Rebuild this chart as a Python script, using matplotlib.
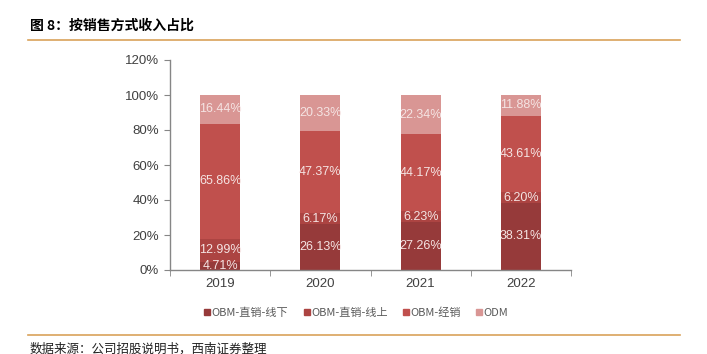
import matplotlib
matplotlib.use("Agg")
import matplotlib.pyplot as plt
import numpy as np
from matplotlib.lines import Line2D

plt.rcParams['font.family'] = ['Liberation Sans', 'Noto Sans CJK SC', 'DejaVu Sans']

years = ["2019", "2020", "2021", "2022"]
series_names = ["OBM-直销-线下", "OBM-直销-线上", "OBM-经销", "ODM"]
offline = [4.71, 26.13, 27.26, 38.31]
online = [12.99, 6.17, 6.23, 6.20]
distrib = [65.86, 47.37, 44.17, 43.61]
odm = [16.44, 20.33, 22.34, 11.88]
yticks = [0, 20, 40, 60, 80, 100, 120]
colors = ["#963a3a", "#ac4442", "#c0504d", "#d99694"]

fig = plt.figure(figsize=(7.07, 3.54), dpi=100)
ax = fig.add_axes([170/707, 1-270/354, (571-170)/707, (270-60)/354])

x = np.arange(len(years))
bottom = np.zeros(len(years))
for vals, c, name in zip([offline, online, distrib, odm], colors, series_names):
    v = np.array(vals)
    ax.bar(x, v, 0.4, bottom=bottom, color=c, label=name, zorder=2)
    for xi, b, h in zip(x, bottom, v):
        ax.text(xi, b + h/2, f"{h:.2f}%", ha='center', va='center',
                color='#f5e4e3', fontsize=9, zorder=3)
    bottom += v

ax.set_xlim(-0.5, 3.5)
ax.set_ylim(0, 120)
ax.set_yticks(yticks)
ax.set_yticklabels([f"{t}%" for t in yticks])
ax.set_xticks(x)
ax.set_xticklabels(years)
ax.set_xticks(np.arange(-0.5, 4.0, 1.0), minor=True)
ax.tick_params(axis='x', which='major', length=0, labelsize=9.5, colors='#404040', pad=6)
ax.tick_params(axis='x', which='minor', length=4, color='#868686', direction='out')
ax.tick_params(axis='y', length=4, color='#868686', labelsize=9.5, labelcolor='#404040', pad=4)
for s in ['top', 'right']:
    ax.spines[s].set_visible(False)
for s in ['left', 'bottom']:
    ax.spines[s].set_color('#868686')
    ax.spines[s].set_linewidth(1.0)

# legend
handles = [Line2D([0], [0], marker='s', color='none', markerfacecolor=c,
                  markeredgecolor=c, markersize=4.5) for c in colors]
fig.legend(handles, series_names, loc='center', bbox_to_anchor=(356/707, 1-313/354),
           ncol=4, frameon=False, handletextpad=0.05, columnspacing=1.3,
           handlelength=0.7, labelcolor='#595959',
           prop={'family': ['Noto Sans CJK SC'], 'size': 8})

# title and lines
fig.text(30/707, 1-26/354, "图 8：按销售方式收入占比", fontsize=10, fontweight='bold',
         va='center', ha='left', family=['Noto Sans CJK SC', 'DejaVu Sans'])
fig.add_artist(Line2D([28/707, 680/707], [1-40/354, 1-40/354], color='#d9a25a', lw=1.2))
fig.add_artist(Line2D([28/707, 680/707], [1-335/354, 1-335/354], color='#d9a25a', lw=1.2))
fig.text(30/707, 1-349/354, "数据来源：公司招股说明书，西南证券整理", fontsize=9, style='italic',
         va='center', ha='left', color='#202020', family=['Noto Sans CJK SC', 'DejaVu Sans'])

fig.savefig("out.png", dpi=100)
